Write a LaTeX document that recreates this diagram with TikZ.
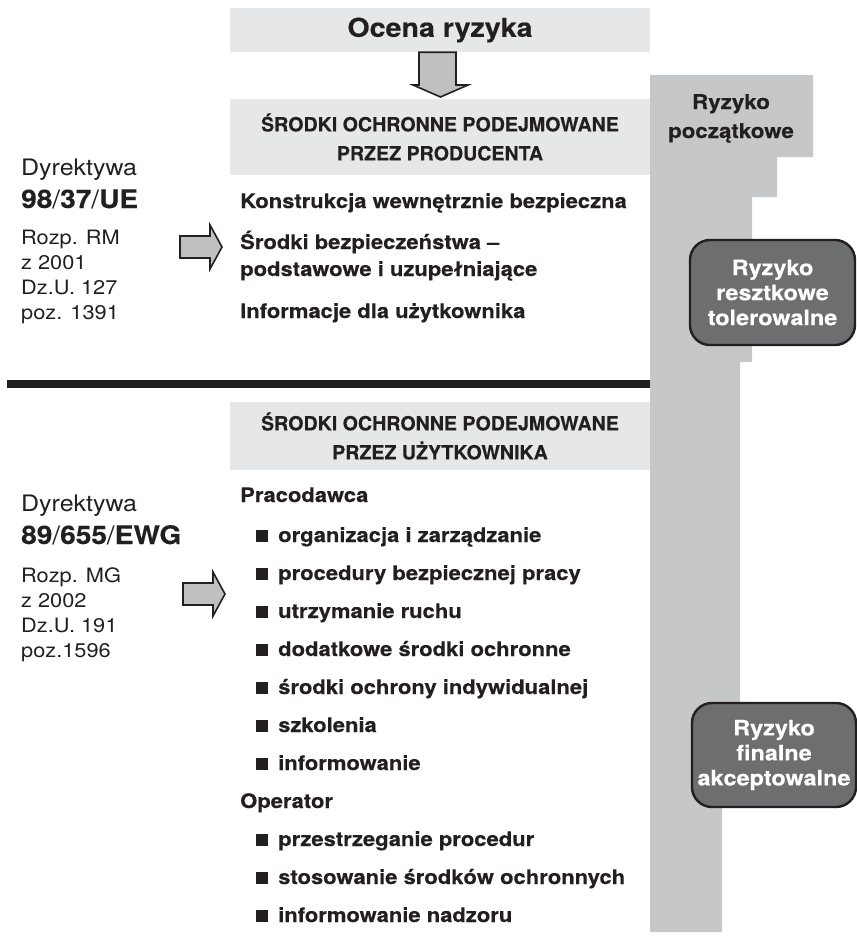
\documentclass[tikz,border=0pt]{standalone}
\usepackage{fontspec}
\setmainfont{TeX Gyre Heros}[FakeStretch=1.1, BoldFeatures={FakeBold=0.3}]
\newfontfamily\capsfont{TeX Gyre Heros}[BoldFeatures={FakeBold=0.2}]
\definecolor{ink}{HTML}{231F20}
\definecolor{panelgray}{HTML}{E6E7E8}
\definecolor{bargray}{HTML}{C6C7C9}
\definecolor{arrowgray}{HTML}{C0C0C0}
\definecolor{riskgray}{HTML}{6D6E70}
\newcommand\setfs[2]{\fontsize{#1pt}{#2pt}\selectfont}
\begin{document}
\begin{tikzpicture}[x=1pt,y=-1pt,
  panel/.style={fill=panelgray, inner sep=0pt, minimum width=420pt, align=center, text=ink},
  hdr/.style={panel, font=\capsfont\bfseries\setfs{19.6}{29}},
  lead/.style={anchor=base west, inner sep=0pt, text=ink, font=\setfs{22.7}{26}},
  code/.style={anchor=base west, inner sep=0pt, text=ink, font=\bfseries\setfs{25.5}{30}},
  refline/.style={anchor=base west, inner sep=0pt, text=ink, font=\setfs{19.8}{24}},
  item/.style={anchor=base west, inner sep=0pt, text=ink, font=\bfseries\setfs{20}{24}},
  riskbox/.style={draw=ink, line width=2.4pt, fill=riskgray, rounded corners=20pt,
    text=white, align=center, inner sep=0pt, font=\bfseries\setfs{21.3}{25}},
  blockarrow/.style={draw=ink, line width=1.6pt, fill=arrowgray, line join=miter},
]
\useasboundingbox (0,0) rectangle (857,943);

% stepped risk bar on the right
\fill[bargray] (650,75) -- (813,75) -- (813,157) -- (777,157) -- (777,197)
  -- (752,197) -- (752,362) -- (740,362) -- (740,755) -- (722,755)
  -- (722,932) -- (650,932) -- cycle;
\node[anchor=base, inner sep=0pt, text=ink, font=\bfseries\setfs{20.3}{24}] (rp1) at (731,109) {Ryzyko};
\node[anchor=base, inner sep=0pt, text=ink, font=\bfseries\setfs{20.3}{24}] (rp2) at (731,138) {początkowe};

% title and header panels
\node[panel, minimum height=44pt, font=\bfseries\setfs{26}{30}] (ocena) at (440,30) {Ocena ryzyka};
\node[hdr, minimum height=76pt] (prod) at (440,137) {ŚRODKI OCHRONNE PODEJMOWANE\\PRZEZ PRODUCENTA};
\node[hdr, minimum height=68pt] (user) at (440,436) {ŚRODKI OCHRONNE PODEJMOWANE\\PRZEZ UŻYTKOWNIKA};

% down arrow between the title and the producer panel
\filldraw[blockarrow] (ocena.south -| 419,0) -- (419,85) -- (413,85) -- (440.5,97)
  -- (468,85) -- (456,85) -- (ocena.south -| 456,0) -- cycle;

% separator between the two parts
\fill[ink] (7,380) rectangle (650,388);

% upper part: directive and producer measures
\node[lead] (d1) at (21,175) {Dyrektywa};
\node[code] (d1n) at (21,208) {98{\mdseries/}37{\mdseries/}UE};
\node[refline] (r1a) at (21,244) {Rozp. RM};
\node[refline] (r1b) at (21,269) {z 2001};
\node[refline] (r1c) at (21,294) {Dz.U. 127};
\node[refline] (r1d) at (21,319) {poz. 1391};
\filldraw[blockarrow] (180,236) -- (210,236) -- (210,225) -- (222,247) -- (210,269)
  -- (210,258) -- (180,258) -- cycle;

\node[item] (p1) at (240,208) {Konstrukcja wewnętrznie bezpieczna};
\node[item] (p2) at (240,249) {Środki bezpieczeństwa –};
\node[item] (p3) at (240,276) {podstawowe i uzupełniające};
\node[item] (p4) at (240,318) {Informacje dla użytkownika};

% lower part: directive and user measures
\node[lead] (d2) at (21,511) {Dyrektywa};
\node[code] (d2n) at (21,544) {89{\mdseries/}655{\mdseries/}EWG};
\node[refline] (r2a) at (21,582) {Rozp. MG};
\node[refline] (r2b) at (21,607) {z 2002};
\node[refline] (r2c) at (21,632) {Dz.U. 191};
\node[refline] (r2d) at (21,657) {poz.1596};
\filldraw[blockarrow] (183,583) -- (213,583) -- (213,572) -- (225,594) -- (213,616)
  -- (213,605) -- (183,605) -- cycle;

\newcommand\sq{\makebox[22pt][l]{\rule{12pt}{12pt}}}
\node[item] (emp) at (240,502) {Pracodawca};
\node[item] (e1) at (256,542) {\sq organizacja i zarządzanie};
\node[item] (e2) at (256,580) {\sq procedury bezpiecznej pracy};
\node[item] (e3) at (256,618) {\sq utrzymanie ruchu};
\node[item] (e4) at (256,656) {\sq dodatkowe środki ochronne};
\node[item] (e5) at (256,694) {\sq środki ochrony indywidualnej};
\node[item] (e6) at (256,732) {\sq szkolenia};
\node[item] (e7) at (256,770) {\sq informowanie};
\node[item] (opr) at (240,808) {Operator};
\node[item] (o1) at (256,846) {\sq przestrzeganie procedur};
\node[item] (o2) at (256,884) {\sq stosowanie środków ochronnych};
\node[item] (o3) at (256,922) {\sq informowanie nadzoru};

% residual and final risk boxes
\node[riskbox, minimum width=165pt, minimum height=105pt] (resid) at (772.5,292.5)
  {Ryzyko\\resztkowe\\tolerowalne};
\node[riskbox, minimum width=164pt, minimum height=104pt] (final) at (774,755)
  {Ryzyko\\finalne\\akceptowalne};
\end{tikzpicture}
\end{document}
